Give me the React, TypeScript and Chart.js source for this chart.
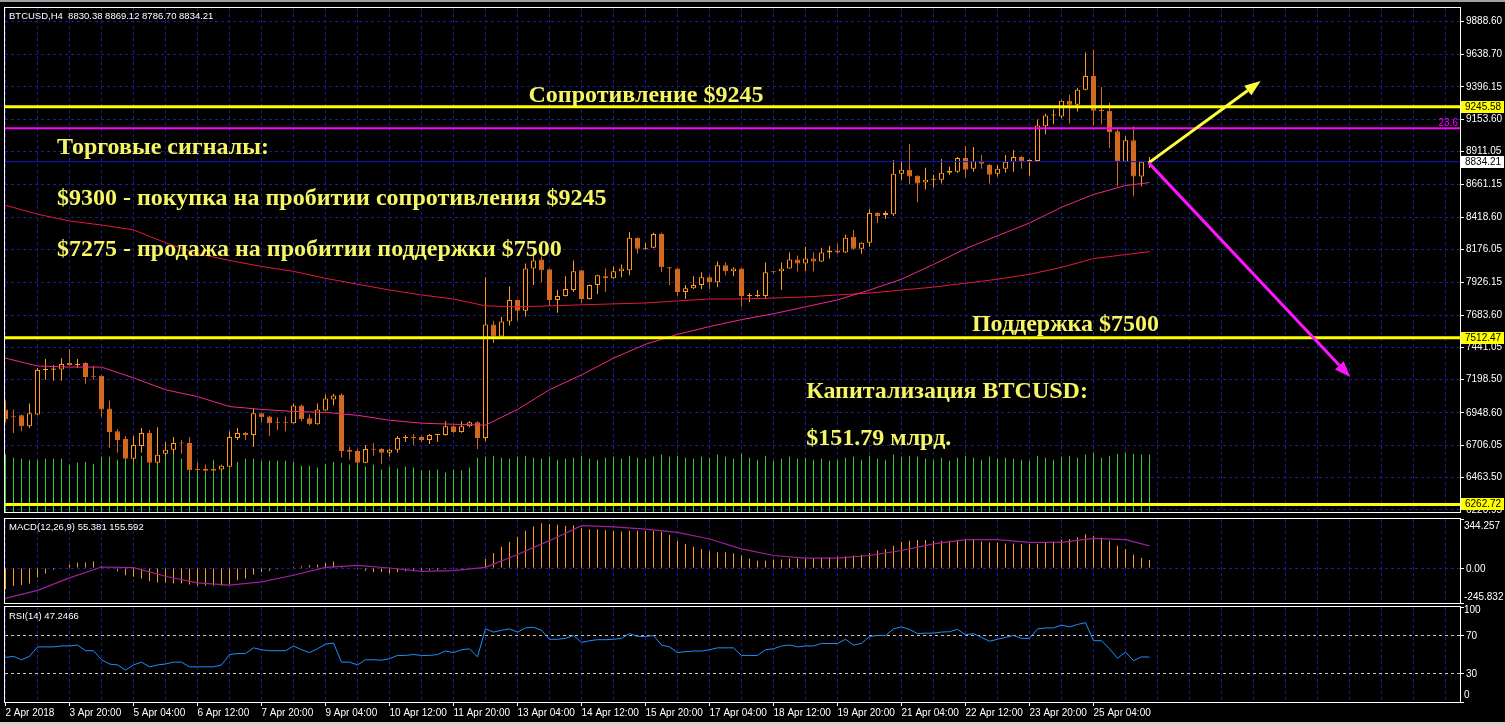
import React, { useEffect, useRef } from "react";
import { Chart, registerables } from "chart.js";

Chart.register(...registerables);

// ---------------- data ----------------
const symbolTitle = "BTCUSD,H4  8830.38 8869.12 8786.70 8834.21";
const macdTitle = "MACD(12,26,9) 55.381 155.592";
const rsiTitle = "RSI(14) 47.2466";

const dateLabels = [
  "2 Apr 2018", "3 Apr 20:00", "5 Apr 04:00", "6 Apr 12:00", "7 Apr 20:00", "9 Apr 04:00",
  "10 Apr 12:00", "11 Apr 20:00", "13 Apr 04:00", "14 Apr 12:00", "15 Apr 20:00", "17 Apr 04:00",
  "18 Apr 12:00", "19 Apr 20:00", "21 Apr 04:00", "22 Apr 12:00", "23 Apr 20:00", "25 Apr 04:00",
];

const priceTicks = [9888.6, 9638.7, 9396.15, 9153.6, 8911.05, 8661.15, 8418.6, 8176.05, 7926.15,
  7683.6, 7441.05, 7198.5, 6948.6, 6706.05, 6463.5, 6220.95];

const opens = [
  6975, 6923, 6931, 6849, 6938, 7271, 7273, 7275, 7323, 7308, 7323, 7227, 7227, 6983, 6812, 6753,
  6605, 6701, 6798, 6576, 6642, 6672, 6724, 6724, 6524, 6531, 6531, 6524, 6546, 6761, 6798, 6783,
  6946, 6923, 6879, 6879, 6872, 7005, 6909, 6864, 6968, 7049, 7086, 6672, 6664, 6576, 6679, 6679,
  6650, 6672, 6761, 6768, 6768, 6746, 6783, 6783, 6849, 6805, 6849, 6879, 6761, 7612, 7523, 7634,
  7797, 7715, 8033, 8100, 8026, 7797, 7826, 7871, 8019, 7804, 7908, 7974, 7959, 8011, 8019, 8263,
  8181, 8189, 8292, 8041, 8033, 7856, 7885, 7908, 7967, 7930, 8056, 8011, 8033, 7826, 7826, 7826,
  8011, 8011, 8033, 8100, 8070, 8107, 8085, 8152, 8167, 8152, 8270, 8181, 8226, 8448, 8433, 8440,
  8744, 8773, 8729, 8677, 8699, 8699, 8751, 8759, 8862, 8781, 8840, 8810, 8744, 8781, 8833, 8870,
  8833, 8840, 9099, 9180, 9173, 9291, 9262, 9373, 9476, 9217, 9217, 9062, 8833, 8995, 8722, 8830.38,
];
const highs = [
  7042, 6975, 6938, 7020, 7286, 7353, 7308, 7360, 7427, 7353, 7330, 7301, 7230, 7042, 6827, 6775,
  6775, 6835, 6820, 6842, 6731, 6768, 6746, 6768, 6583, 6561, 6539, 6556, 6812, 6835, 6805, 6983,
  6950, 6927, 6916, 6923, 7020, 7012, 6938, 7020, 7086, 7090, 7094, 6694, 6679, 6709, 6724, 6683,
  6679, 6775, 6783, 6790, 6775, 6790, 6790, 6886, 6857, 6886, 6886, 6886, 7967, 7641, 7671, 7900,
  7800, 8070, 8137, 8122, 8030, 7871, 7974, 8093, 8022, 7912, 7986, 8033, 8048, 8063, 8307, 8266,
  8226, 8300, 8300, 8044, 8036, 7908, 7974, 8004, 7982, 8085, 8078, 8041, 8036, 7848, 7871, 8078,
  8015, 8078, 8152, 8130, 8196, 8152, 8189, 8204, 8218, 8285, 8322, 8230, 8477, 8455, 8463, 8847,
  8840, 8966, 8733, 8788, 8736, 8855, 8796, 8870, 8951, 8944, 8884, 8814, 8810, 8884, 8921, 8877,
  8852, 9151, 9195, 9225, 9295, 9336, 9388, 9654, 9676, 9395, 9277, 9077, 9025, 9099, 8840, 8869.12,
];
const lows = [
  6879, 6798, 6812, 6835, 6931, 7197, 7190, 7190, 7301, 7286, 7168, 7197, 6923, 6687, 6650, 6600,
  6590, 6650, 6561, 6568, 6620, 6635, 6642, 6512, 6502, 6502, 6509, 6516, 6540, 6746, 6746, 6694,
  6879, 6775, 6820, 6812, 6868, 6886, 6857, 6860, 6964, 7005, 6613, 6598, 6561, 6572, 6627, 6568,
  6620, 6650, 6731, 6709, 6731, 6716, 6731, 6780, 6798, 6800, 6842, 6679, 6738, 7471, 7520, 7604,
  7641, 7671, 7908, 7930, 7752, 7700, 7822, 7856, 7774, 7800, 7841, 7856, 7955, 7967, 7982, 8144,
  8174, 8185, 8004, 7908, 7826, 7804, 7878, 7878, 7878, 7893, 7982, 7974, 7745, 7782, 7819, 7804,
  7996, 7871, 8030, 8011, 8011, 8011, 8082, 8107, 8144, 8148, 8174, 8144, 8196, 8374, 8403, 8426,
  8692, 8662, 8529, 8625, 8640, 8670, 8736, 8751, 8714, 8759, 8781, 8670, 8722, 8751, 8759, 8781,
  8729, 8833, 9040, 9114, 9158, 9121, 9210, 9370, 9106, 9114, 8936, 8648, 8830, 8574, 8648, 8786.7,
];
const closes = [
  6901, 6916, 6849, 6946, 7271, 7273, 7282, 7316, 7308, 7316, 7219, 7220, 6975, 6805, 6746, 6606,
  6709, 6798, 6576, 6635, 6672, 6724, 6720, 6518, 6521, 6516, 6516, 6553, 6768, 6798, 6783, 6946,
  6916, 6872, 6875, 6876, 7005, 6901, 6864, 6975, 7057, 7080, 6664, 6657, 6576, 6679, 6672, 6650,
  6672, 6761, 6763, 6761, 6746, 6783, 6785, 6849, 6805, 6849, 6879, 6761, 7612, 7523, 7634, 7797,
  7715, 8033, 8093, 8019, 7797, 7826, 7878, 8011, 7804, 7908, 7982, 7959, 8011, 8033, 8263, 8181,
  8183, 8292, 8041, 8033, 7856, 7885, 7908, 7967, 7930, 8056, 8011, 8033, 7826, 7828, 7829, 8004,
  8004, 8033, 8100, 8070, 8107, 8085, 8152, 8167, 8152, 8263, 8181, 8226, 8448, 8426, 8448, 8744,
  8773, 8722, 8670, 8699, 8701, 8751, 8766, 8862, 8773, 8840, 8818, 8736, 8781, 8833, 8870, 8833,
  8847, 9106, 9180, 9182, 9291, 9262, 9373, 9476, 9217, 9215, 9055, 8833, 8995, 8722, 8833, 8834.21,
];

const volumes = [
  1160, 1100, 1080, 1060, 1060, 1080, 1080, 1080, 960, 1000, 1020, 980, 1120, 1120, 1060, 1100,
  1080, 1140, 1140, 1080, 1160, 1160, 1080, 1020, 980, 960, 1060, 960, 900, 1020, 1080, 1080,
  1040, 1040, 1040, 1040, 1020, 940, 940, 900, 980, 1020, 1000, 960, 960, 920, 960, 860,
  920, 880, 920, 900, 840, 840, 860, 800, 860, 840, 900, 1100, 1120, 1140, 1100, 1080,
  1120, 1140, 1100, 1080, 1120, 1060, 1080, 1100, 1140, 1080, 1060, 1100, 1120, 1080, 1140, 1100,
  1080, 1120, 1160, 1120, 1140, 1100, 1080, 1120, 1100, 1160, 1120, 1080, 1180, 1100, 1060, 1140,
  1040, 1080, 1120, 1080, 1100, 1060, 1080, 1040, 1060, 1100, 1120, 1060, 1140, 1080, 1060, 1160,
  1120, 1140, 1120, 1080, 1060, 1100, 1040, 1100, 1140, 1100, 1060, 1120, 1080, 1100, 1080, 1060,
  1040, 1140, 1100, 1060, 1120, 1140, 1100, 1160, 1200, 1100, 1140, 1180, 1200, 1180, 1160, 1160,
];

// bars at which the moving averages and MACD signal were sampled
const sampleBars = [0, 4, 8, 12, 16, 20, 24, 28, 32, 36, 40, 44, 48, 52, 56, 60, 64, 68, 72, 76,
  80, 84, 88, 92, 96, 100, 104, 108, 112, 116, 120, 124, 128, 132, 136, 140, 143];
const maFast = [7360, 7301, 7293, 7293, 7212, 7123, 7071, 6997, 6975, 6960, 6953, 6931, 6894, 6872,
  6864, 6857, 6975, 7123, 7234, 7360, 7464, 7538, 7597, 7649, 7693, 7745, 7797, 7871, 7952, 8063,
  8181, 8278, 8374, 8492, 8588, 8655, 8677];
const maSlow = [8507, 8440, 8389, 8359, 8322, 8226, 8144, 8093, 8048, 8011, 7959, 7915, 7871, 7834,
  7804, 7752, 7745, 7752, 7760, 7767, 7774, 7789, 7804, 7804, 7811, 7819, 7834, 7848, 7871, 7893,
  7922, 7952, 7989, 8041, 8107, 8137, 8159];

const macdMain = [
  -150, -127, -120, -109, -67, -39, -12, -3, 25, 37, 39, 46, 14, 3, -23, -51,
  -62, -74, -93, -102, -102, -109, -109, -116, -125, -125, -125, -125, -116, -86, -74, -46,
  -28, -19, -9, 3, 9, 12, 19, 23, 35, 46, 14, 3, -9, -19, -28, -28,
  -39, -28, -23, -23, -19, -16, -14, -9, -5, -5, 2, -5, 65, 106, 150, 185,
  220, 261, 291, 315, 308, 303, 296, 301, 280, 273, 273, 266, 261, 257, 261, 261,
  261, 261, 254, 231, 192, 169, 150, 134, 118, 111, 111, 104, 88, 65, 53, 53,
  60, 60, 65, 65, 65, 69, 72, 76, 81, 83, 88, 93, 106, 123, 134, 157,
  185, 192, 197, 197, 192, 192, 192, 199, 197, 197, 187, 180, 180, 173, 173, 169,
  169, 169, 180, 187, 199, 204, 215, 238, 227, 215, 192, 157, 134, 95, 72, 55.381,
];
const macdSignal = [-213, -157, -69, 7, 2, -58, -104, -120, -97, -51, 5, 19, 0, -23, -19, 5, 95,
  192, 298, 289, 273, 250, 204, 134, 88, 69, 69, 88, 123, 169, 199, 199, 180, 180, 208, 199, 155.592];

const rsiValues = [
  47, 48, 44.5, 48, 58, 58, 58, 59, 59, 60, 54, 54, 44.5, 40, 39, 33.6,
  39, 42, 37, 39, 40, 42, 42, 37, 37, 37, 37, 39, 50, 51, 51, 57,
  55, 54, 54, 54, 59, 55, 52, 56, 61, 62, 42, 42, 39, 44.5, 44.5, 44,
  45.6, 49, 49, 50, 49, 49, 50, 53.6, 52, 55, 56, 47.5, 77, 73.6, 75.5, 77,
  73.6, 78, 78.7, 75.5, 66, 66, 67, 70, 62.7, 64.5, 65.6, 65.6, 66, 67, 72, 69,
  69, 70, 60, 58, 52, 53, 53.6, 53.6, 55, 57, 57, 57, 49, 49, 49, 55,
  56, 59, 60, 58, 59, 59, 61.6, 61.6, 61.6, 66, 60, 61.6, 69, 70, 70, 77,
  79, 76.5, 72, 72.5, 72.5, 73.6, 74, 76.5, 70.7, 72, 68, 64, 66, 68, 70, 67,
  67, 77, 78, 78, 81, 79, 81.6, 83.5, 64.5, 64.5, 56, 46, 52.5, 43.5, 47.5, 47.2466,
];

const resistanceLevel = 9245.58;
const supportLevel = 7512.47;
const lowLevel = 6262.72;
const fibLevel = 9085;
const lastPrice = 8834.21;
const rsiLevels = [70, 30];
const macdRange = [-245.832, 344.257];

// annotations (anchored in bar / price coordinates)
const textNotes = [
  { text: "Сопротивление $9245", bar: 80.06, price: 9284, align: "center" },
  { text: "Торговые сигналы:", bar: 6.44, price: 8892, align: "left" },
  { text: "$9300 - покупка на пробитии сопротивления $9245", bar: 6.44, price: 8507, align: "left" },
  { text: "$7275 - продажа на пробитии поддержки $7500", bar: 6.44, price: 8130, align: "left" },
  { text: "Поддержка $7500", bar: 120.8, price: 7560, align: "left" },
  { text: "Капитализация BTCUSD:", bar: 100.1, price: 7064, align: "left" },
  { text: "$151.79 млрд.", bar: 100.1, price: 6709, align: "left" },
];
const arrowNotes = [
  { from: [142.9, 8825], to: [156.9, 9439], color: "#FFFF3C" },
  { from: [142.9, 8825], to: [168.1, 7219], color: "#FF14FF" },
];

// ---------------- styling ----------------
const X_MIN = -0.0625;
const X_MAX = 181.8125;
const Y_MIN = 6205.6;
const Y_MAX = 9987;
const VOL_MAX = 10220;
const GRID = "#1c1c96";
const BULL = "#FF9A1A";
const BEAR = "#D2691E";
const TXT = "#F6F664";
const AXIS_FONT = "10px 'Liberation Sans', Arial, sans-serif";
const TITLE_FONT = "9.5px 'Liberation Sans', Arial, sans-serif";

const bars = opens.map((_, i) => i);
const isBull = (i: number) => closes[i] >= opens[i];

const gridTicks = (s: any) => {
  const t: any[] = [];
  for (let k = 0; k <= 180; k += 4) t.push({ value: k });
  s.ticks = t;
};

const baseOptions: any = {
  responsive: false,
  animation: false,
  devicePixelRatio: 1,
  events: [],
  plugins: { legend: { display: false }, tooltip: { enabled: false } },
};

const xHidden = () => ({
  type: "linear",
  min: X_MIN,
  max: X_MAX,
  offset: false,
  afterBuildTicks: gridTicks,
  ticks: { display: false },
  grid: { color: GRID, drawTicks: false, offset: false, lineWidth: 1 },
  border: { display: false, dash: [3, 3] },
});

const framePlugin = {
  id: "frame",
  afterDraw(chart: any) {
    const { ctx, chartArea: a } = chart;
    ctx.save();
    ctx.strokeStyle = "#ffffff";
    ctx.lineWidth = 1;
    ctx.strokeRect(Math.round(a.left) - 0.5, Math.round(a.top) - 0.5, Math.round(a.right - a.left) + 1, Math.round(a.bottom - a.top) + 1);
    ctx.restore();
  },
};

const hLine = (v: number, color: string, width: number, order: number) => ({
  type: "line",
  data: [{ x: X_MIN, y: v }, { x: X_MAX, y: v }],
  borderColor: color,
  borderWidth: width,
  pointRadius: 0,
  order,
});

export default function App() {
  const mainRef = useRef<HTMLCanvasElement>(null);
  const macdRef = useRef<HTMLCanvasElement>(null);
  const rsiRef = useRef<HTMLCanvasElement>(null);

  useEffect(() => {
    document.body.style.margin = "0";
    document.body.style.background = "#000";

    const mainOverlay = {
      id: "mainOverlay",
      afterDatasetsDraw(chart: any) {
        const { ctx, scales } = chart;
        const x = scales.x, y = scales.y;
        ctx.save();
        arrowNotes.forEach((ar) => {
          const x1 = x.getPixelForValue(ar.from[0]), y1 = y.getPixelForValue(ar.from[1]);
          const x2 = x.getPixelForValue(ar.to[0]), y2 = y.getPixelForValue(ar.to[1]);
          const ang = Math.atan2(y2 - y1, x2 - x1);
          const hl = 16, hw = 6;
          const bx = x2 - hl * Math.cos(ang), by = y2 - hl * Math.sin(ang);
          ctx.strokeStyle = ar.color;
          ctx.fillStyle = ar.color;
          ctx.lineWidth = 3;
          ctx.beginPath();
          ctx.moveTo(x1, y1);
          ctx.lineTo(bx, by);
          ctx.stroke();
          ctx.beginPath();
          ctx.moveTo(x2, y2);
          ctx.lineTo(bx + hw * Math.sin(ang), by - hw * Math.cos(ang));
          ctx.lineTo(bx - hw * Math.sin(ang), by + hw * Math.cos(ang));
          ctx.closePath();
          ctx.fill();
        });
        ctx.fillStyle = TXT;
        ctx.font = "bold 24px 'Liberation Serif', 'Times New Roman', serif";
        ctx.textBaseline = "alphabetic";
        textNotes.forEach((n) => {
          ctx.textAlign = n.align as CanvasTextAlign;
          ctx.fillText(n.text, x.getPixelForValue(n.bar), y.getPixelForValue(n.price));
        });
        ctx.restore();
      },
      afterDraw(chart: any) {
        const { ctx, chartArea: a, scales } = chart;
        const y = scales.y;
        ctx.save();
        ctx.textBaseline = "middle";
        ctx.font = TITLE_FONT;
        ctx.fillStyle = "#ffffff";
        ctx.textAlign = "left";
        ctx.fillText(symbolTitle, a.left + 4, a.top + 8);
        ctx.font = AXIS_FONT;
        ctx.fillStyle = "#FF00FF";
        ctx.textAlign = "right";
        ctx.textBaseline = "alphabetic";
        ctx.fillText("23.6", a.right - 2, y.getPixelForValue(fibLevel) - 2);
        ctx.textBaseline = "middle";
        ctx.textAlign = "left";
        const boxes = [
          { v: resistanceLevel, bg: "#FFFF00" },
          { v: lastPrice, bg: "#FFFFFF" },
          { v: supportLevel, bg: "#FFFF00" },
          { v: lowLevel, bg: "#FFFF00" },
        ];
        boxes.forEach((b) => {
          const py = Math.round(y.getPixelForValue(b.v));
          ctx.fillStyle = b.bg;
          ctx.fillRect(a.right + 1, py - 6, 43, 12);
          ctx.fillStyle = "#000";
          ctx.fillText(b.v.toFixed(2), a.right + 5, py + 0.5);
        });
        ctx.restore();
      },
    };

    const main = new Chart(mainRef.current as HTMLCanvasElement, {
      type: "line",
      data: {
        datasets: [
          hLine(resistanceLevel, "#FFFF00", 3, 0),
          hLine(supportLevel, "#FFFF00", 3, 0),
          hLine(lowLevel, "#FFFF00", 3, 0),
          hLine(fibLevel, "#FF00FF", 2, 0),
          hLine(lastPrice, "#1616C8", 1, 0),
          {
            type: "line",
            data: sampleBars.map((b, i) => ({ x: b, y: maFast[i] })),
            borderColor: "#F0288C",
            borderWidth: 1,
            pointRadius: 0,
            order: 1,
          },
          {
            type: "line",
            data: sampleBars.map((b, i) => ({ x: b, y: maSlow[i] })),
            borderColor: "#E8173C",
            borderWidth: 1,
            pointRadius: 0,
            order: 1,
          },
          {
            type: "bar",
            data: bars.map((i) => ({ x: i, y: [opens[i], closes[i]] })),
            backgroundColor: (c: any) => (isBull(c.dataIndex) ? "#000000" : BEAR),
            borderColor: (c: any) => (isBull(c.dataIndex) ? BULL : BEAR),
            borderWidth: 1,
            borderSkipped: false,
            grouped: false,
            barThickness: 5,
            maxBarThickness: 5,
            minBarLength: 1,
            inflateAmount: 0,
            order: 2,
          },
          {
            type: "bar",
            data: bars.map((i) => ({ x: i, y: [lows[i], highs[i]] })),
            backgroundColor: (c: any) => (isBull(c.dataIndex) ? BULL : BEAR),
            borderWidth: 0,
            grouped: false,
            barThickness: 1,
            maxBarThickness: 1,
            inflateAmount: 0,
            order: 3,
          },
          {
            type: "bar",
            yAxisID: "yv",
            data: bars.map((i) => ({ x: i, y: volumes[i] })),
            backgroundColor: "#32CD32",
            borderWidth: 0,
            grouped: false,
            barThickness: 1,
            maxBarThickness: 1,
            inflateAmount: 0,
            order: 4,
          },
        ] as any,
      },
      options: {
        ...baseOptions,
        layout: { padding: { left: 5, top: 5, right: 0, bottom: 4 } },
        scales: {
          x: xHidden(),
          y: {
            position: "right",
            min: Y_MIN,
            max: Y_MAX,
            afterBuildTicks: (s: any) => { s.ticks = priceTicks.map((v) => ({ value: v })); },
            afterFit: (s: any) => { s.width = 45; },
            ticks: {
              color: "#ffffff",
              font: { family: "'Liberation Sans', Arial, sans-serif", size: 10 },
              padding: 2,
              autoSkip: false,
              callback: (v: any) => Number(v).toFixed(2),
            },
            grid: { color: GRID, tickColor: "#ffffff", tickLength: 4, lineWidth: 1 },
            border: { display: false, dash: [3, 3] },
          },
          yv: { display: false, min: 0, max: VOL_MAX },
        },
      } as any,
      plugins: [mainOverlay, framePlugin],
    });

    const macdOverlay = {
      id: "macdOverlay",
      afterDraw(chart: any) {
        const { ctx, chartArea: a, scales } = chart;
        ctx.save();
        ctx.fillStyle = "#ffffff";
        ctx.textBaseline = "middle";
        ctx.textAlign = "left";
        ctx.font = TITLE_FONT;
        ctx.fillText(macdTitle, a.left + 4, a.top + 8);
        ctx.font = AXIS_FONT;
        ctx.fillText(macdRange[1].toFixed(3), a.right + 4, a.top + 7);
        ctx.fillText("0.00", a.right + 6, scales.y.getPixelForValue(0) + 1);
        ctx.fillText(macdRange[0].toFixed(3), a.right + 4, a.bottom - 6);
        ctx.restore();
      },
    };

    const macd = new Chart(macdRef.current as HTMLCanvasElement, {
      type: "line",
      data: {
        datasets: [
          {
            type: "line",
            data: sampleBars.map((b, i) => ({ x: b, y: macdSignal[i] })),
            borderColor: "#A0209F",
            borderWidth: 1.2,
            pointRadius: 0,
            order: 0,
          },
          {
            type: "bar",
            data: bars.map((i) => ({ x: i, y: macdMain[i] })),
            backgroundColor: "#FF9A1A",
            borderWidth: 0,
            grouped: false,
            barThickness: 1,
            maxBarThickness: 1,
            inflateAmount: 0,
            order: 1,
          },
        ] as any,
      },
      options: {
        ...baseOptions,
        layout: { padding: { left: 5, top: 3, right: 0, bottom: 3 } },
        scales: {
          x: xHidden(),
          y: {
            position: "right",
            min: macdRange[0],
            max: macdRange[1],
            afterBuildTicks: (s: any) => { s.ticks = [{ value: macdRange[0] }, { value: 0 }, { value: macdRange[1] }]; },
            afterFit: (s: any) => { s.width = 45; },
            ticks: { display: false },
            grid: {
              color: (c: any) => (c.tick && c.tick.value === 0 ? GRID : "rgba(0,0,0,0)"),
              tickColor: "#ffffff",
              tickLength: 4,
            },
            border: { display: false, dash: [3, 3] },
          },
        },
      } as any,
      plugins: [macdOverlay, framePlugin],
    });

    const rsiOverlay = {
      id: "rsiOverlay",
      afterDraw(chart: any) {
        const { ctx, chartArea: a, scales } = chart;
        const y = scales.y;
        ctx.save();
        ctx.fillStyle = "#ffffff";
        ctx.textBaseline = "middle";
        ctx.textAlign = "left";
        ctx.font = TITLE_FONT;
        ctx.fillText(rsiTitle, a.left + 4, a.top + 9);
        ctx.font = AXIS_FONT;
        ctx.fillText("100", a.right + 4, a.top + 3);
        rsiLevels.forEach((v) => ctx.fillText(String(v), a.right + 6, y.getPixelForValue(v) + 1));
        ctx.fillText("0", a.right + 4, a.bottom - 7);
        ctx.restore();
      },
    };

    const rsi = new Chart(rsiRef.current as HTMLCanvasElement, {
      type: "line",
      data: {
        datasets: [
          {
            type: "line",
            data: bars.map((i) => ({ x: i, y: rsiValues[i] })),
            borderColor: "#1E90FF",
            borderWidth: 1,
            pointRadius: 0,
          },
        ] as any,
      },
      options: {
        ...baseOptions,
        layout: { padding: { left: 5, top: 3, right: 0, bottom: 0 } },
        scales: {
          x: {
            type: "linear",
            min: X_MIN,
            max: X_MAX,
            offset: false,
            afterBuildTicks: gridTicks,
            afterFit: (s: any) => { s.height = 23; },
            ticks: {
              display: true,
              color: "#ffffff",
              font: { family: "'Liberation Sans', Arial, sans-serif", size: 10 },
              align: "start",
              maxRotation: 0,
              minRotation: 0,
              autoSkip: false,
              padding: 1,
              callback: (v: any) => {
                const k = Number(v);
                return k % 8 === 0 && k / 8 < dateLabels.length ? dateLabels[k / 8] : "";
              },
            },
            grid: {
              color: GRID,
              drawTicks: true,
              tickLength: 4,
              offset: false,
              tickColor: (c: any) =>
                c.tick && c.tick.value % 8 === 0 && c.tick.value / 8 < dateLabels.length ? "#ffffff" : "rgba(0,0,0,0)",
            },
            border: { display: false, dash: [3, 3] },
          },
          y: {
            position: "right",
            min: 0,
            max: 100,
            afterBuildTicks: (s: any) => { s.ticks = [0, 30, 70, 100].map((v) => ({ value: v })); },
            afterFit: (s: any) => { s.width = 45; },
            ticks: { display: false },
            grid: {
              color: (c: any) => (c.tick && (c.tick.value === 30 || c.tick.value === 70) ? "#C8C8C8" : "rgba(0,0,0,0)"),
              tickColor: "#ffffff",
              tickLength: 4,
            },
            border: { display: false, dash: [3, 3] },
          },
        },
      } as any,
      plugins: [rsiOverlay, framePlugin],
    });

    return () => {
      main.destroy();
      macd.destroy();
      rsi.destroy();
    };
  }, []);

  return (
    <div style={{ position: "relative", width: 1505, height: 725, background: "#000", overflow: "hidden" }}>
      <div style={{ position: "absolute", left: 0, top: 0, width: 1505, height: 2, background: "#a0a0a0" }} />
      <canvas ref={mainRef} width={1505} height={520} style={{ position: "absolute", left: 0, top: 0, display: "block" }} />
      <canvas ref={macdRef} width={1505} height={90} style={{ position: "absolute", left: 0, top: 516, display: "block" }} />
      <canvas ref={rsiRef} width={1505} height={121} style={{ position: "absolute", left: 0, top: 604, display: "block" }} />
      <div style={{ position: "absolute", left: 0, top: 722, width: 1505, height: 3, background: "#d4d0c8" }} />
    </div>
  );
}
